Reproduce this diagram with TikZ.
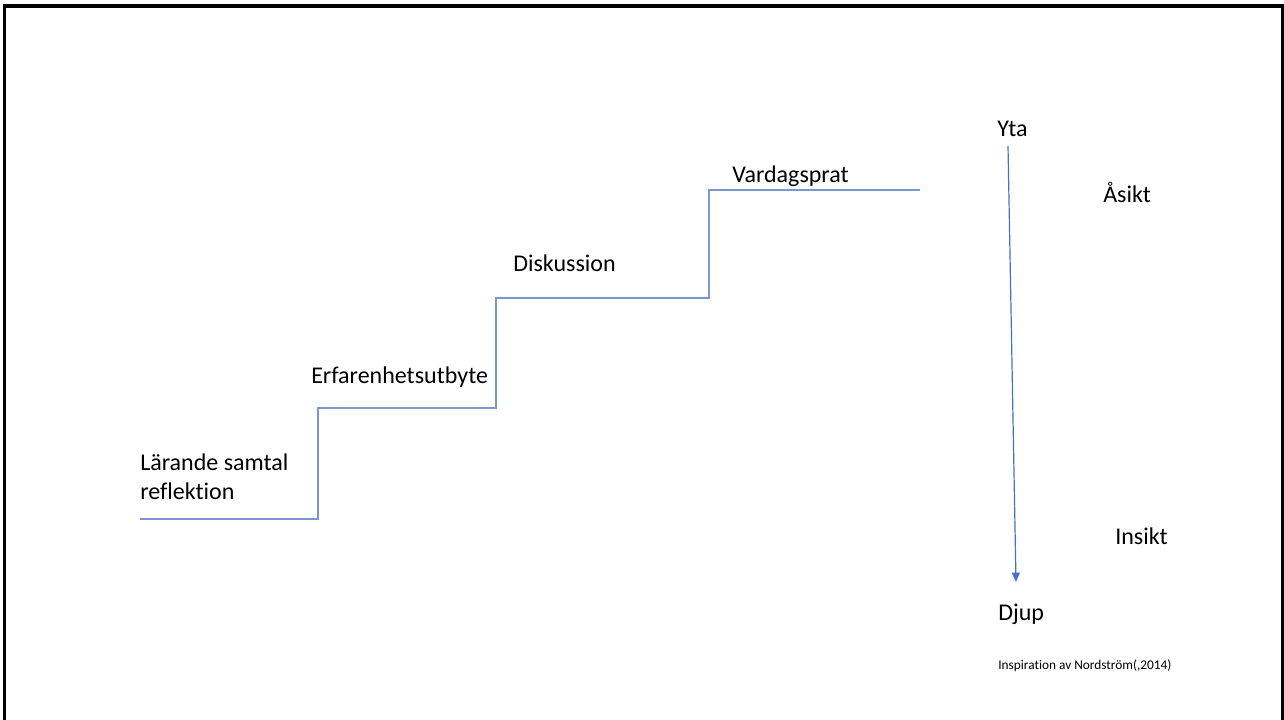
\documentclass[tikz,border=0pt]{standalone}
\usepackage{fontspec}
\setmainfont{Carlito}[Ligatures=NoCommon]
\usetikzlibrary{arrows.meta}

\definecolor{steplinecol}{RGB}{122,152,206}
\definecolor{arrowcol}{RGB}{68,114,196}

\tikzset{
    steplabel/.style={anchor=base west, inner sep=0pt, font=\fontsize{18}{21.4}\selectfont, align=left},
    smalllabel/.style={anchor=base west, inner sep=0pt, font=\fontsize{10}{12}\selectfont},
    stairline/.style={draw=steplinecol, line width=0.9pt},
    deptharrow/.style={draw=arrowcol, line width=0.9pt, -{Triangle[length=7pt, width=6pt]}}
}

\begin{document}
\begin{tikzpicture}[x=0.75pt, y=-0.75pt]

    % fixed page size
    \useasboundingbox (0,0) rectangle (1284,720);

    % the slide frame (bottom edge is off the page)
    \draw[line width=2.3pt] (4.5,721) -- (4.5,6) -- (1282.5,6) -- (1282.5,721);

    % the staircase
    \draw[stairline] (140,519) -- (318,519) -- (318,408) -- (496,408)
        -- (496,298) -- (709,298) -- (709,190) -- (920,190);

    % labels on the steps (base of a two-line node is its last line)
    \node[steplabel] (samtal) at (140,499) {Lärande samtal\\reflektion};
    \node[steplabel] (utbyte) at (311,383) {Erfarenhetsutbyte};
    \node[steplabel] (diskussion) at (513,272) {Diskussion};
    \node[steplabel] (vardag) at (732,183) {Vardagsprat};

    % surface and depth
    \node[steplabel] (yta) at (997,137) {Yta};
    \node[steplabel] (djup) at (998,620) {Djup};
    \coordinate (pilstart) at (1008,146);
    \coordinate (pilslut) at (1016,582);
    \draw[deptharrow] (pilstart) -- (pilslut);

    % opinion and insight
    \node[steplabel] (asikt) at (1103,203) {Åsikt};
    \node[steplabel] (insikt) at (1115,544) {Insikt};

    % the source
    \node[smalllabel] (kalla) at (998,669) {Inspiration av Nordström(,2014)};

\end{tikzpicture}
\end{document}
